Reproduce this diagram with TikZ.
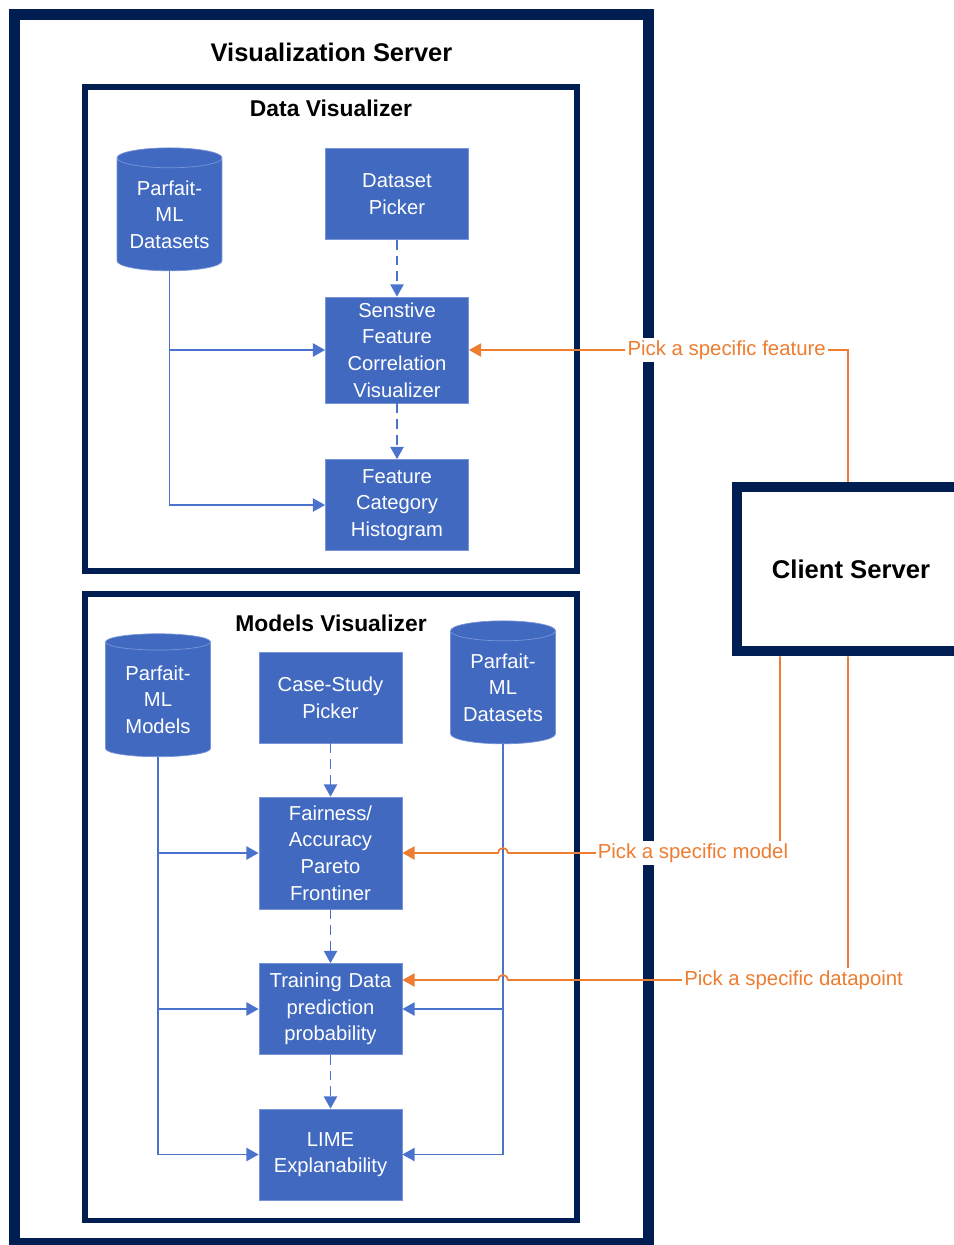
\documentclass[tikz,border=0pt]{standalone}
\usepackage{fontspec}
\setmainfont{Liberation Sans}
\usetikzlibrary{shapes.geometric, arrows.meta, positioning, calc}
\definecolor{navy}{RGB}{0,30,82}
\definecolor{boxblue}{RGB}{65,105,192}
\definecolor{boxline}{RGB}{120,150,215}
\definecolor{linkblue}{RGB}{75,115,205}
\definecolor{pickorange}{RGB}{237,125,49}

\begin{document}
\begin{tikzpicture}[x=0.02cm, y=0.02cm,
    frame/.style={rectangle, draw=navy, line width=6.2pt, inner sep=0pt},
    panel/.style={rectangle, draw=navy, line width=3.1pt, inner sep=0pt, minimum width=9.84cm},
    title/.style={font=\bfseries\fontsize{14.5}{17}\selectfont, inner sep=0pt},
    subtitle/.style={font=\bfseries\fontsize{13}{15}\selectfont, inner sep=0pt},
    block/.style={rectangle, draw=boxline, fill=boxblue, text=white, text width=2.7cm, align=center, minimum width=2.86cm, minimum height=1.82cm, inner sep=1pt, font=\fontsize{11.5}{15.2}\selectfont},
    store/.style={cylinder, shape border rotate=90, aspect=0.25, draw=boxline, fill=boxblue, text=white, align=center, minimum width=2.1cm, minimum height=2.46cm, inner sep=0pt, font=\fontsize{11.5}{15.2}\selectfont},
    feed/.style={draw=linkblue, line width=1.1pt, -{Triangle[length=7pt, width=7.5pt]}},
    flow/.style={feed, dash pattern=on 5.5pt off 3.5pt},
    pick/.style={draw=pickorange, line width=1pt, -{Triangle[length=7pt, width=7.5pt]}},
    lbl/.style={fill=white, text=pickorange, inner sep=1.2pt, font=\fontsize{11.6}{14}\selectfont}]

    \useasboundingbox (0,0) rectangle (954,-1245);

    % Frames
    \node [frame, minimum width=12.68cm, minimum height=24.58cm] (vis) at (331.5,-629) {};
    \node [title] (vistitle) at ([yshift=-0.87cm]vis.north) {Visualization Server};
    \node [panel, minimum height=9.68cm] (dataviz) at (331,-329) {};
    \node [subtitle] (datatitle) at ([yshift=-0.48cm]dataviz.north) {Data Visualizer};
    \node [panel, minimum height=12.53cm] (modelviz) at (331,-907.25) {};
    \node [subtitle] (modeltitle) at ([yshift=-0.64cm]modelviz.north) {Models Visualizer};
    \node [frame, minimum width=4.56cm, minimum height=3.28cm, font=\bfseries\fontsize{14.6}{17}\selectfont] (cs) at (851,-569) {Client Server};

    % Data Visualizer
    \node [store] (ds1) at (169.5,-214.5) {Parfait-\\ML\\Datasets};
    \node [block] (dpick) at (397,-194) {Dataset\\Picker};
    \node [block, minimum height=2.12cm] (sens) at (397,-350) {Senstive\\Feature\\Correlation\\Visualizer};
    \node [block] (hist) at (397,-505) {Feature\\Category\\Histogram};

    % Models Visualizer
    \node [store] (mdl) at (158,-699.5) {Parfait-\\ML\\Models};
    \node [block] (cpick) at (330.5,-697.5) {Case-Study\\Picker};
    \node [store] (ds2) at (503,-687.5) {Parfait-\\ML\\Datasets};
    \node [block, minimum height=2.24cm] (fair) at (330.5,-853) {Fairness/\\Accuracy\\Pareto\\Frontiner};
    \node [block] (train) at (330.5,-1009) {Training Data\\prediction\\probability};
    \node [block] (lime) at (330.5,-1154.5) {LIME\\Explanability};

    % Paths
    \draw [feed] (ds1.south) |- (sens.west);
    \draw [feed] (ds1.south) |- (hist.west);
    \draw [flow] (dpick) -- (sens);
    \draw [flow] (sens) -- (hist);

    \draw [feed] (mdl.south) |- (fair.west);
    \draw [feed] (mdl.south) |- (train.west);
    \draw [feed] (mdl.south) |- (lime.west);
    \draw [feed] (ds2.south) |- (train.east);
    \draw [feed] (ds2.south) |- (lime.east);
    \draw [flow] (cpick) -- (fair);
    \draw [flow] (fair) -- (train);
    \draw [flow] (train) -- (lime);

    % Client requests
    \coordinate (jmpM) at (508,-853);
    \coordinate (jmpD) at (508,-980);
    \draw [pick] ([xshift=-0.06cm]cs.north) |- node [lbl, pos=0.66] {Pick a specific feature} (sens.east);
    \draw [pick] ([xshift=-1.42cm]cs.south) |- node [lbl, pos=0.66] {Pick a specific model} (jmpM)
        arc [start angle=0, end angle=180, radius=0.1cm] -- (fair.east);
    \draw [pick] ([xshift=-0.06cm]cs.south) |- node [lbl, pos=0.58] {Pick a specific datapoint} (jmpD)
        arc [start angle=0, end angle=180, radius=0.1cm] -- (jmpD -| train.east);

\end{tikzpicture}
\end{document}
